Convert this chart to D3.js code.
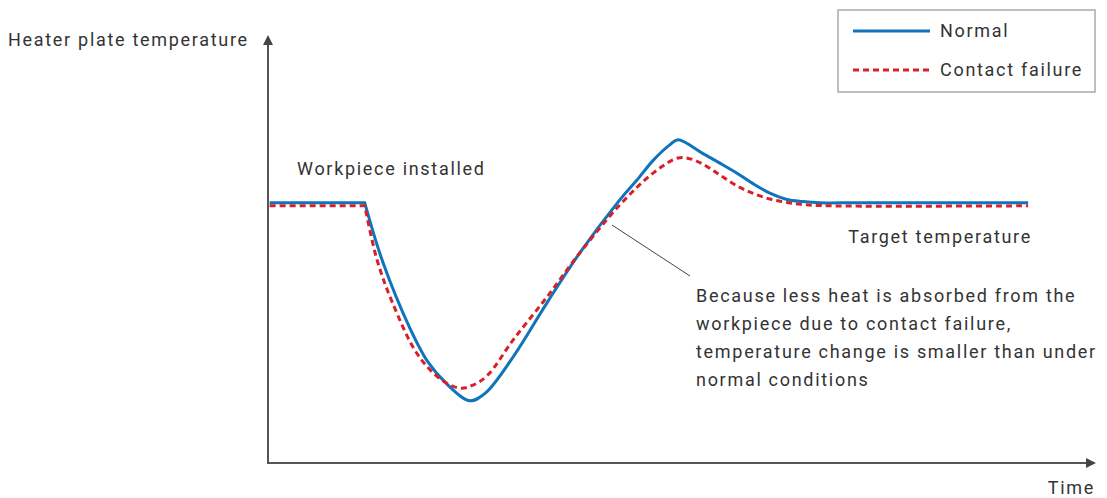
<!DOCTYPE html>
<meta charset="utf-8">
<style>
body { margin: 0; background: #fff; }
svg { font-family: Roboto, sans-serif; font-size: 18px; letter-spacing: 1.7px; }
text { fill: #333; }
.axis { stroke: #555; stroke-width: 2; fill: none; }
.normal { stroke: #0f74bc; stroke-width: 3; fill: none; }
.failure { stroke: #d7202a; stroke-width: 3; fill: none; stroke-dasharray: 6,4; }
</style>
<body>
<script src="https://cdn.jsdelivr.net/npm/d3@7"></script>
<script>

// time (0-100) and temperature (0-100)
var normalTime = [0.2, 11.8, 14.0, 17.3, 19.5, 21.8, 24.6, 26.5, 29.9, 34.0, 38.0, 42.9, 45.0, 47.0, 49.0, 50.0, 53.0, 55.1, 57.2, 59.1, 61.2, 63.3, 65.2, 67.3, 69.8, 92.7];
var normalTemp = [61.5, 61.5, 47.5, 31.9, 23.9, 18.7, 14.7, 16.5, 25.1, 37.8, 49.6, 62.2, 66.9, 71.6, 75.2, 76.4, 73.2, 70.9, 68.5, 66.1, 63.8, 62.3, 61.8, 61.5, 61.5, 61.5];

var failureTime = [0.2, 11.8, 13.3, 15.2, 18.2, 21.0, 23.4, 25.0, 26.8, 29.9, 34.0, 38.0, 42.9, 47.0, 50.0, 51.5, 53.0, 55.1, 57.2, 59.1, 61.2, 63.3, 65.2, 68.5, 92.7];
var failureTemp = [60.8, 60.8, 48.0, 37.8, 25.8, 19.9, 17.7, 18.4, 20.8, 29.1, 39.2, 49.6, 61.0, 68.6, 72.1, 71.9, 70.7, 68.1, 65.5, 63.8, 62.4, 61.6, 61.1, 60.8, 60.8];

var seriesNames = ["Normal", "Contact failure"];
var noteLines = [
  "Because less heat is absorbed from the",
  "workpiece due to contact failure,",
  "temperature change is smaller than under",
  "normal conditions"
];

var width = 1107, height = 498;

var x = d3.scaleLinear().domain([0, 100]).range([268, 1088]);
var y = d3.scaleLinear().domain([0, 100]).range([463, 40]);

var svg = d3.select("body").append("svg")
    .attr("width", width)
    .attr("height", height);

// axes with arrow heads
svg.append("line").attr("class", "axis")
    .attr("x1", x(0)).attr("y1", y(0) + 1)
    .attr("x2", x(0)).attr("y2", 42);
svg.append("line").attr("class", "axis")
    .attr("x1", x(0) - 1).attr("y1", y(0))
    .attr("x2", 1088).attr("y2", y(0));
svg.append("path")
    .attr("d", "M" + x(0) + ",35L" + (x(0) - 5) + ",45L" + (x(0) + 5) + ",45Z")
    .style("fill", "#444");
svg.append("path")
    .attr("d", "M1096," + y(0) + "L1086," + (y(0) - 5) + "L1086," + (y(0) + 5) + "Z")
    .style("fill", "#444");

svg.append("text").attr("x", 8).attr("y", 46).text("Heater plate temperature");
svg.append("text").attr("x", 1095).attr("y", 494).attr("text-anchor", "end").text("Time");

// curves: sharp corner where the workpiece goes on, smooth after that
var flat = d3.line().x(function(d) { return x(d[0]); }).y(function(d) { return y(d[1]); });
var smooth = d3.line().x(function(d) { return x(d[0]); }).y(function(d) { return y(d[1]); })
    .curve(d3.curveCatmullRom.alpha(0.5));

function pathFor(ts, vs) {
  var pts = ts.map(function(t, i) { return [t, vs[i]]; });
  return flat(pts.slice(0, 2)) + smooth(pts.slice(1)).replace(/^M/, "L");
}

svg.append("path").attr("class", "normal").attr("d", pathFor(normalTime, normalTemp));
svg.append("path").attr("class", "failure").attr("d", pathFor(failureTime, failureTemp));

// labels
svg.append("text").attr("x", 297).attr("y", 175).text("Workpiece installed");
svg.append("text").attr("x", 1032).attr("y", 243).attr("text-anchor", "end").text("Target temperature");

svg.append("line")
    .attr("x1", 612).attr("y1", 225)
    .attr("x2", 690).attr("y2", 276)
    .style("stroke", "#444").style("stroke-width", 1);

svg.append("g").selectAll("text")
    .data(noteLines)
  .enter().append("text")
    .attr("x", 696)
    .attr("y", function(d, i) { return 302 + i * 28; })
    .text(function(d) { return d; });

// legend
var legend = svg.append("g");
legend.append("rect")
    .attr("x", 838).attr("y", 10)
    .attr("width", 257).attr("height", 82)
    .style("fill", "#fff").style("stroke", "#aaa").style("stroke-width", 1.5);

var item = legend.selectAll(".item")
    .data(seriesNames)
  .enter().append("g")
    .attr("transform", function(d, i) { return "translate(0," + (31 + i * 39) + ")"; });

item.append("line")
    .attr("class", function(d, i) { return i ? "failure" : "normal"; })
    .attr("x1", 853).attr("x2", 930);

item.append("text")
    .attr("x", 940).attr("dy", "0.35em")
    .text(function(d) { return d; });

</script>
